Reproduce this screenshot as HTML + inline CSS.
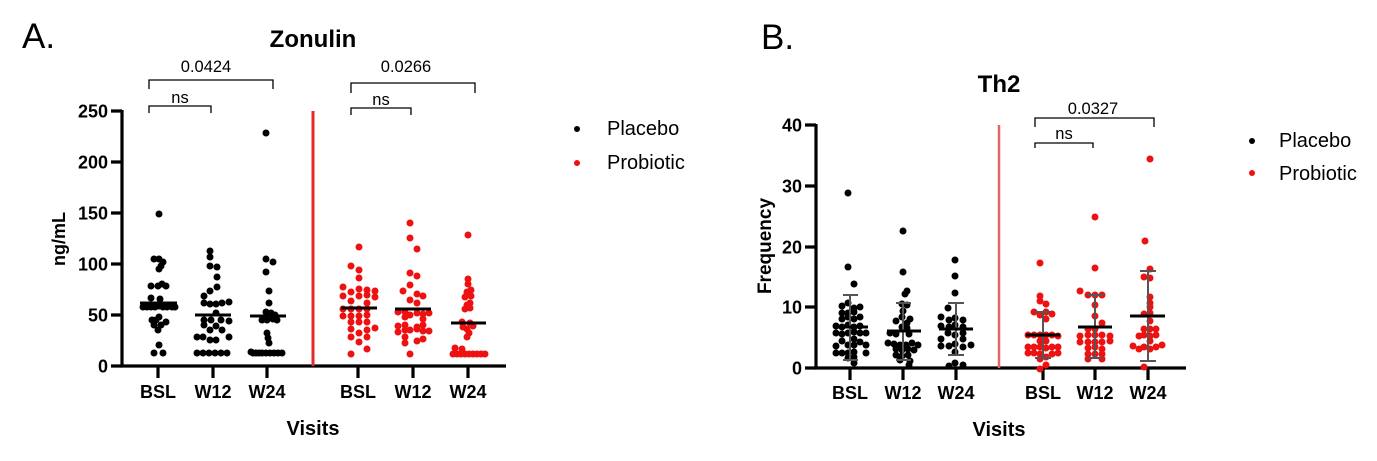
<!DOCTYPE html>
<html><head><meta charset="utf-8"><style>
html,body{margin:0;padding:0;background:#fff;}
svg{display:block;}
text{font-family:"Liberation Sans",Arial,sans-serif;fill:#000;}
.b{font-weight:bold;}
</style></head><body>
<svg id="s" width="1377" height="461" viewBox="0 0 1377 461" xmlns="http://www.w3.org/2000/svg">
<rect width="1377" height="461" fill="#fff"/>
<!-- Panel A -->
<text x="22" y="48" font-size="35">A.</text>
<text class="b" x="313" y="47" font-size="24" text-anchor="middle">Zonulin</text>
<g stroke="#000" stroke-width="1.3" fill="none">
<path d="M149,89 V80 H273 V89"/>
<path d="M149,113 V106 H211 V113"/>
<path d="M351,93 V83 H475 V93"/>
<path d="M351,115 V108 H411 V115"/>
</g>
<text x="206" y="72" font-size="16.5" text-anchor="middle">0.0424</text>
<text x="180" y="103" font-size="16.5" text-anchor="middle">ns</text>
<text x="406" y="72" font-size="16.5" text-anchor="middle">0.0266</text>
<text x="381" y="105" font-size="16.5" text-anchor="middle">ns</text>
<g stroke="#000" stroke-width="3.2" fill="none">
<path d="M122,110 V367.5 M120.5,366 H506"/>
<path d="M111,111 H122 M111,162 H122 M111,213 H122 M111,264 H122 M111,315 H122 M111,366 H122"/>
<path d="M158,366 V378 M213,366 V378 M267,366 V378 M358,366 V378 M413,366 V378 M468,366 V378"/>
</g>
<line x1="313" y1="111" x2="313" y2="366" stroke="#e42a2a" stroke-width="3"/>
<g class="b" font-size="18" text-anchor="end">
<text x="108" y="117.5">250</text><text x="108" y="168.5">200</text><text x="108" y="219.5">150</text>
<text x="108" y="270.5">100</text><text x="108" y="321.5">50</text><text x="108" y="372.5">0</text>
</g>
<text class="b" font-size="18" transform="translate(65,239) rotate(-90)" text-anchor="middle">ng/mL</text>
<g class="b" font-size="18" text-anchor="middle">
<text x="158" y="398">BSL</text><text x="213" y="398">W12</text><text x="267" y="398">W24</text>
<text x="358" y="398">BSL</text><text x="413" y="398">W12</text><text x="468" y="398">W24</text>
</g>
<text class="b" x="313" y="435" font-size="20" text-anchor="middle">Visits</text>
<g id="dA"></g>
<g stroke="#000" stroke-width="3">
<path d="M140,303 H177 M195,315 H231 M250,316 H286 M341,308 H377 M395,309 H431 M451,323 H486"/>
</g>
<circle cx="577" cy="129" r="3" fill="#000"/>
<circle cx="577" cy="163" r="3" fill="#ee1111"/>
<text x="607" y="135" font-size="20">Placebo</text>
<text x="607" y="169" font-size="20">Probiotic</text>

<!-- Panel B -->
<text x="761" y="49" font-size="35">B.</text>
<text class="b" x="999" y="92" font-size="24" text-anchor="middle">Th2</text>
<g stroke="#000" stroke-width="1.3" fill="none">
<path d="M1035,127 V118 H1154 V127"/>
<path d="M1035,148 V143 H1093 V148"/>
</g>
<text x="1093" y="114" font-size="16.5" text-anchor="middle">0.0327</text>
<text x="1064" y="139" font-size="16.5" text-anchor="middle">ns</text>
<g stroke="#000" stroke-width="3.2" fill="none">
<path d="M816,124 V369.5 M814.5,368 H1186"/>
<path d="M805,125 H816 M805,186 H816 M805,247 H816 M805,307 H816 M805,368 H816"/>
<path d="M850,368 V380 M903,368 V380 M956,368 V380 M1043,368 V380 M1095,368 V380 M1148,368 V380"/>
</g>
<line x1="999" y1="125" x2="999" y2="368" stroke="#e86464" stroke-width="2.5"/>
<g class="b" font-size="18" text-anchor="end">
<text x="802" y="131.5">40</text><text x="802" y="192.5">30</text><text x="802" y="253.5">20</text>
<text x="802" y="313.5">10</text><text x="802" y="374.5">0</text>
</g>
<text class="b" font-size="19" transform="translate(771,246) rotate(-90)" text-anchor="middle">Frequency</text>
<g class="b" font-size="18" text-anchor="middle">
<text x="850" y="399">BSL</text><text x="903" y="399">W12</text><text x="956" y="399">W24</text>
<text x="1043" y="399">BSL</text><text x="1095" y="399">W12</text><text x="1148" y="399">W24</text>
</g>
<text class="b" x="999" y="436" font-size="20" text-anchor="middle">Visits</text>
<g id="dB"></g>
<g stroke="#555" stroke-width="2" fill="none">
<path d="M850,295 V360 M843,295 H858 M843,360 H858"/>
<path d="M903,303 V360 M896,303 H911 M896,360 H911"/>
<path d="M956,303 V355 M948,303 H964 M948,355 H964"/>
<path d="M1043,312 V358 M1035,312 H1051 M1035,358 H1051"/>
<path d="M1095,295 V358 M1087,295 H1103 M1087,358 H1103"/>
<path d="M1148,271 V361 M1140,271 H1156 M1140,361 H1156"/>
</g>
<g stroke="#000" stroke-width="3">
<path d="M834,327 H868 M887,331 H921 M939,329 H973 M1026,335 H1060 M1078,327 H1112 M1130,316 H1165"/>
</g>
<circle cx="1252" cy="141" r="3" fill="#000"/>
<circle cx="1252" cy="173" r="3" fill="#ee1111"/>
<text x="1279" y="147" font-size="20">Placebo</text>
<text x="1279" y="180" font-size="20">Probiotic</text>
</svg>
<script>
var NS="http://www.w3.org/2000/svg";
function put(gid,pts,col,r){var g=document.getElementById(gid);for(var i=0;i<pts.length;i+=2){var c=document.createElementNS(NS,"circle");c.setAttribute("cx",pts[i]);c.setAttribute("cy",pts[i+1]);c.setAttribute("r",r);c.setAttribute("fill",col);g.appendChild(c);}}
var K="#000",R="#ee1111",RR=3.5;
put("dA",[159,214,154,259,159,259,163,262,161,266,159,269,151,286,158,286,162,284,166,286,151,298,160,299,143,307,147,307,151,307,155,307,159,306,163,307,167,307,172,307,175,307,152,320,156,320,159,317,166,322,154,325,161,325,158,330,159,345,154,353,163,353],K,RR);
put("dA",[210,251,210,257,210,266,217,267,217,277,217,287,210,291,204,296,204,303,210,304,216,304,222,303,229,302,216,313,204,320,211,320,221,320,229,321,204,325,216,326,210,330,222,330,197,337,203,337,210,340,216,340,229,337,197,353,203,353,209,353,215,353,221,353,227,353],K,RR);
put("dA",[266,133,266,259,273,262,266,272,269,291,269,303,266,312,271,313,275,315,262,320,267,320,273,319,277,320,267,333,268,338,269,343,251,352,253,353,256,353,259,353,262,353,266,353,270,353,274,353,278,353,282,353],K,RR);
put("dA",[359,247,351,266,359,270,359,278,343,287,351,292,359,289,367,290,375,291,343,296,359,296,367,295,375,297,351,301,367,303,343,309,351,309,359,309,367,309,343,316,351,316,359,316,367,315,351,322,359,322,367,322,351,329,359,333,367,330,375,328,351,337,367,337,359,342,367,349,351,354],R,RR);
put("dA",[410,223,410,238,417,249,410,273,417,276,410,285,403,291,417,294,423,296,410,300,417,303,398,312,405,312,410,315,417,313,423,314,429,313,405,317,423,319,398,326,405,325,417,327,423,325,398,332,405,330,410,330,417,329,423,331,429,331,405,337,423,339,417,341,405,343,410,354],R,RR);
put("dA",[468,235,468,279,468,284,467,292,471,290,465,297,471,296,470,303,467,305,465,309,470,308,462,322,470,323,473,326,463,327,467,329,469,333,467,337,455,348,462,349,453,354,457,354,461,354,465,354,469,354,473,354,477,354,481,354,485,354],R,RR);
put("dB",[848,193,848,267,854,284,842,306,848,303,854,308,860,307,842,313,848,313,854,312,842,319,848,317,854,319,860,317,836,326,842,327,848,325,854,327,860,326,836,333,842,334,848,333,854,332,860,333,866,333,842,341,854,339,860,342,836,346,848,345,854,345,866,345,836,353,842,353,848,353,854,352,866,353,848,358,854,357,854,363],K,RR);
put("dB",[903,231,903,272,907,291,905,294,902,304,907,305,903,311,896,321,902,317,910,319,907,323,902,327,907,328,890,333,896,334,909,334,888,343,894,344,900,345,906,345,912,343,918,345,896,349,902,350,908,349,914,350,896,355,902,356,908,355,900,360,910,361,909,365],K,RR);
put("dB",[955,260,955,276,955,293,948,308,941,317,949,320,955,318,963,320,941,326,949,327,955,325,963,327,948,333,955,335,963,333,941,339,963,339,941,346,949,346,955,344,963,347,971,345,955,352,955,363,963,365,949,366],K,RR);
put("dB",[1040,263,1040,296,1040,301,1046,304,1034,312,1040,315,1046,312,1052,314,1046,319,1028,335,1034,335,1040,335,1046,335,1052,335,1058,336,1040,341,1046,341,1028,347,1034,347,1040,347,1046,348,1052,347,1058,347,1028,353,1034,353,1040,354,1052,354,1058,353,1040,359,1046,357,1046,365,1040,369],R,RR);
put("dB",[1095,217,1095,268,1080,291,1088,295,1095,295,1102,295,1095,305,1095,316,1102,323,1088,329,1095,329,1080,336,1088,335,1095,335,1102,335,1110,336,1080,342,1088,342,1095,342,1102,342,1110,341,1088,348,1095,347,1102,349,1088,354,1095,354,1102,354,1088,359,1102,359],R,RR);
put("dB",[1150,159,1145,241,1150,269,1144,277,1150,278,1150,297,1150,303,1150,307,1144,314,1150,313,1150,321,1150,329,1144,329,1156,329,1139,336,1144,335,1150,336,1156,335,1150,341,1133,346,1139,349,1144,347,1150,349,1156,347,1162,345,1144,367],R,RR);
</script>
</body></html>
